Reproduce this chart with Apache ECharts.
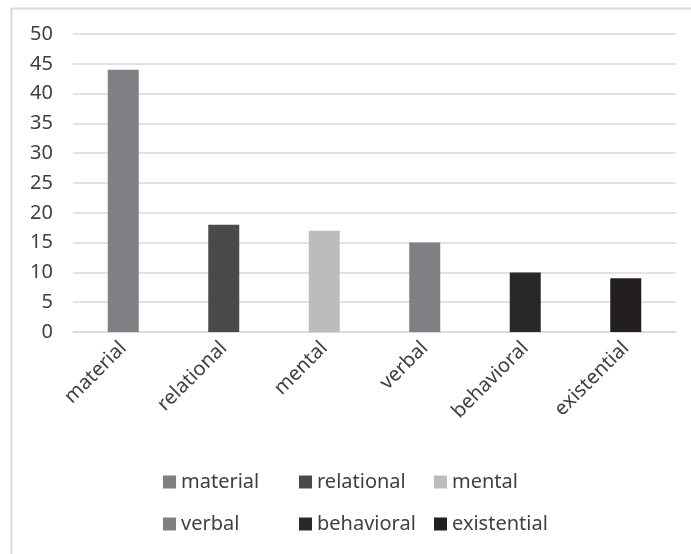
<!DOCTYPE html>
<html>
<head>
<meta charset="utf-8">
<script src="https://cdn.jsdelivr.net/npm/echarts@6/dist/echarts.min.js"></script>
<style>
  html, body { margin: 0; padding: 0; background: #fff; }
  #chartMain { width: 691px; height: 554px; }
</style>
</head>
<body>
<div id="chartMain"></div>
<script>
var categories = ['material', 'relational', 'mental', 'verbal', 'behavioral', 'existential'];
var counts = [44, 18, 17, 15, 10, 9];
var barColors = ['#7f8083', '#4a4a4c', '#bcbcbe', '#7f8083', '#28272a', '#231f20'];
var yTicks = [0, 5, 10, 15, 20, 25, 30, 35, 40, 45, 50];

var textColor = '#404040';
var fontName = 'Noto Sans';

var myChart = echarts.init(document.getElementById('chartMain'));

// one series per category so the legend gets six entries; stacked so each bar stays centred
var series = [];
for (var i = 0; i < categories.length; i++) {
	var d = [];
	for (var j = 0; j < categories.length; j++) {
		d.push(j === i ? counts[i] : '-');
	}
	series.push({
		name: categories[i],
		type: 'bar',
		stack: 'all',
		barWidth: 31,
		itemStyle: { color: barColors[i] },
		data: d
	});
}

// legend laid out as a 3x2 table, one legend per cell
var legendCols = [163, 299, 434];
var legendRows = [472, 514];
var legends = [];
for (var k = 0; k < categories.length; k++) {
	legends.push({
		left: legendCols[k % 3],
		top: legendRows[Math.floor(k / 3)],
		padding: 0,
		itemWidth: 13, itemHeight: 13,
		itemTextGap: 6,
		icon: 'rect',
		textStyle: { color: textColor, fontFamily: fontName, fontSize: 20 },
		data: [categories[k]]
	});
}

var option = {
	animation: false,
	graphic: [{
		type: 'rect',
		left: 9, top: 6,
		shape: { width: 700, height: 600 },
		style: { fill: 'none', stroke: '#d9d9d9', lineWidth: 2 },
		silent: true
	}],
	grid: { left: 73, right: 15, top: 34, bottom: 222 },
	legend: legends,
	xAxis: {
		type: 'category',
		data: categories,
		axisLine: { lineStyle: { color: '#d9d9d9', width: 1.5 } },
		axisTick: { show: false },
		axisLabel: { rotate: 45, margin: 13, color: textColor, fontFamily: fontName, fontSize: 20, interval: 0 }
	},
	yAxis: {
		type: 'value',
		min: yTicks[0], max: yTicks[yTicks.length - 1], interval: 5,
		axisLine: { show: false },
		axisTick: { show: false },
		axisLabel: { margin: 20, color: textColor, fontFamily: fontName, fontSize: 20 },
		splitLine: { lineStyle: { color: '#d9d9d9', width: 1.5 } }
	},
	series: series
};

myChart.setOption(option);
</script>
</body>
</html>
